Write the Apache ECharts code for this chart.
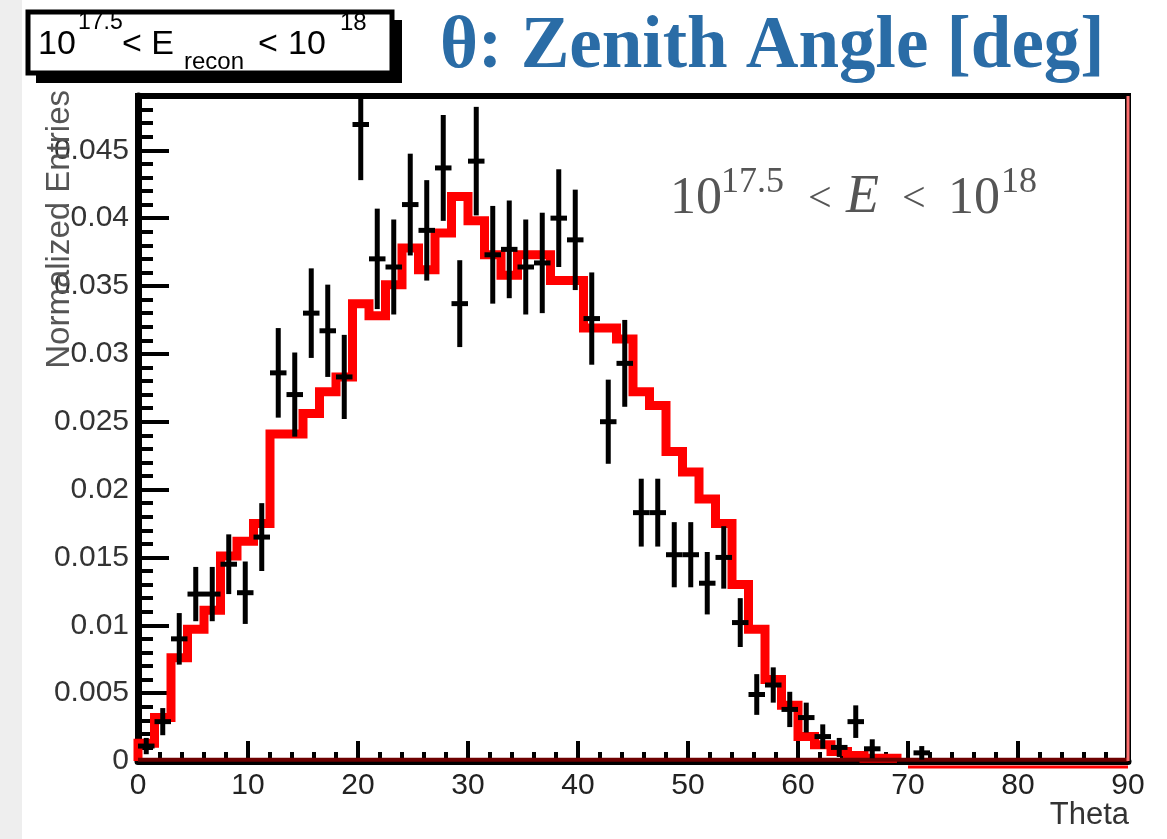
<!DOCTYPE html>
<html>
<head>
<meta charset="UTF-8">
<title>Zenith Angle</title>
<script src="https://cdn.jsdelivr.net/npm/echarts@6/dist/echarts.min.js"></script>
<style>
  body { margin: 0; background: #fff; }
  #chart { width: 1167px; height: 839px; }
</style>
</head>
<body>
<div id="chart"></div>
<script>
// histogram (red), 1.5 deg bins from 0
const binWidth = 1.5;
const histVals = [0.0013, 0.0032, 0.0076, 0.0097, 0.0111, 0.0151, 0.0162, 0.0175, 0.0241, 0.0241,
  0.0256, 0.0272, 0.0283, 0.0337, 0.0328, 0.0351, 0.0378, 0.0362, 0.0389, 0.0416,
  0.0398, 0.0373, 0.0358, 0.0373, 0.0373, 0.0354, 0.0354, 0.0319, 0.0319, 0.0311,
  0.0272, 0.0262, 0.0228, 0.0213, 0.0193, 0.0175, 0.0130, 0.0097, 0.0060, 0.0041,
  0.0018, 0.0012, 0.0007, 0.0004, 0.0002, 0.0002, 0, 0, 0, 0,
  0, 0, 0, 0, 0, 0, 0, 0, 0, 0];

// data points with error bars (black)
const ptTheta = [0.75, 2.25, 3.75, 5.25, 6.75, 8.25, 9.75, 11.25, 12.75, 14.25,
  15.75, 17.25, 18.75, 20.25, 21.75, 23.25, 24.75, 26.25, 27.75, 29.25,
  30.75, 32.25, 33.75, 35.25, 36.75, 38.25, 39.75, 41.25, 42.75, 44.25,
  45.75, 47.25, 48.75, 50.25, 51.75, 53.25, 54.75, 56.25, 57.75, 59.25,
  60.75, 62.25, 63.75, 65.25, 66.75, 71.25];
const ptVal = [0.0011, 0.0029, 0.0090, 0.0123, 0.0123, 0.0145, 0.0124, 0.0165, 0.0286, 0.0270,
  0.0330, 0.0317, 0.0283, 0.0469, 0.0370, 0.0364, 0.0410, 0.0391, 0.0437, 0.0337,
  0.0442, 0.0373, 0.0377, 0.0364, 0.0367, 0.0400, 0.0384, 0.0326, 0.0250, 0.0293,
  0.0183, 0.0183, 0.0152, 0.0152, 0.0131, 0.0150, 0.0102, 0.0049, 0.0056, 0.0038,
  0.0032, 0.0018, 0.0010, 0.0029, 0.0009, 0.0006];
const ptErr = [0.0006, 0.0010, 0.0019, 0.0020, 0.0020, 0.0022, 0.0023, 0.0025, 0.0033, 0.0031,
  0.0033, 0.0034, 0.0031, 0.0041, 0.0037, 0.0035, 0.00375, 0.0037, 0.0039, 0.0032,
  0.0040, 0.0036, 0.0036, 0.0035, 0.0037, 0.0036, 0.0037, 0.0034, 0.0031, 0.0032,
  0.0025, 0.0025, 0.0024, 0.0024, 0.0023, 0.0023, 0.0018, 0.0015, 0.0013, 0.0013,
  0.0011, 0.0009, 0.0007, 0.0012, 0.0007, 0.0005];

const xMax = 90, yMax = 0.049;

// step line data from bin edges, stop after last non-empty bin
let lastBin = 0;
histVals.forEach((v, i) => { if (v > 0) lastBin = i; });
const histData = [[0, 0]];
for (let i = 0; i <= lastBin; i++) histData.push([i * binWidth, histVals[i]]);
histData.push([(lastBin + 1) * binWidth, 0]);

const pts = ptTheta.map((t, i) => [t, ptVal[i], ptErr[i]]);

const chart = echarts.init(document.getElementById('chart'));
const font = '"Liberation Sans", Arial, sans-serif';
const serif = '"Liberation Serif", "Times New Roman", serif';

function txt(x, y, text, size, opts) {
    return {
        type: 'text', x: x, y: y, z: 10,
        style: Object.assign({ text: text, font: size + 'px ' + font, fill: '#000',
            textAlign: 'left', textVerticalAlign: 'middle' }, opts || {})
    };
}
function stxt(x, y, text, css) {
    return txt(x, y, text, 0, { font: css + ' ' + serif, fill: '#555' });
}

chart.setOption({
    backgroundColor: '#fff',
    animation: false,
    grid: { left: 138, right: 39, top: 96, bottom: 78, show: true,
        borderColor: '#000', borderWidth: 6, backgroundColor: 'transparent' },
    xAxis: {
        type: 'value', min: 0, max: xMax, interval: 10,
        axisLine: { lineStyle: { color: '#000', width: 7 } },
        axisTick: { inside: true, length: 20, lineStyle: { color: '#000', width: 4 } },
        minorTick: { show: true, splitNumber: 5, length: 9, lineStyle: { color: '#000', width: 4 } },
        splitLine: { show: false },
        axisLabel: { color: '#222', fontSize: 30, fontFamily: font, margin: 10 }
    },
    yAxis: [{
        type: 'value', min: 0, max: yMax, interval: 0.005,
        axisLine: { lineStyle: { color: '#000', width: 7 } },
        axisTick: { inside: true, length: 31, lineStyle: { color: '#000', width: 4 } },
        splitLine: { show: false },
        axisLabel: { color: '#333', fontSize: 30, fontFamily: font, margin: 9, showMaxLabel: false }
    }, {
        type: 'value', min: 0, max: yMax, interval: 0.001, position: 'left',
        axisLine: { show: false },
        axisTick: { inside: true, length: 15, lineStyle: { color: '#000', width: 4 } },
        splitLine: { show: false },
        axisLabel: { show: false }
    }],
    series: [{
        name: 'hist', type: 'line', step: 'end', data: histData, symbol: 'none', z: 2,
        lineStyle: { color: '#ff0000', width: 9, join: 'miter' }
    }, {
        name: 'zero', type: 'line', data: [[0, 0.0001], [xMax, 0.0001]], symbol: 'none', z: 3,
        lineStyle: { color: '#6e0000', width: 4 }
    }, {
        name: 'edge', type: 'line', data: [[xMax, 0], [xMax, yMax]], symbol: 'none', z: 3,
        lineStyle: { color: '#ff7070', width: 3 }
    }, {
        name: 'under', type: 'line', data: [[70, -0.00045], [xMax, -0.00045]], symbol: 'none', z: 3,
        clip: false, lineStyle: { color: '#ff0000', width: 3 }
    }, {
        name: 'data', type: 'custom', z: 5, data: pts,
        renderItem: function (params, api) {
            const x = api.value(0), y = api.value(1), e = api.value(2);
            const c = api.coord([x, y]);
            const hi = api.coord([x, Math.min(y + e, yMax)]);
            const lo = api.coord([x, Math.max(y - e, 0)]);
            const l = api.coord([x - binWidth / 2, y]);
            const r = api.coord([x + binWidth / 2, y]);
            return { type: 'group', children: [
                { type: 'line', shape: { x1: c[0], y1: hi[1], x2: c[0], y2: lo[1] },
                  style: { stroke: '#000', lineWidth: 5 } },
                { type: 'line', shape: { x1: l[0], y1: c[1], x2: r[0], y2: c[1] },
                  style: { stroke: '#000', lineWidth: 5 } }
            ] };
        }
    }],
    graphic: [
        { type: 'rect', shape: { x: 0, y: 0, width: 22, height: 839 }, style: { fill: '#eeeeee' }, z: 0 },
        // top-left label box with shadow
        { type: 'rect', shape: { x: 36, y: 20, width: 366, height: 63 }, style: { fill: '#000' }, z: 8 },
        { type: 'rect', shape: { x: 28, y: 12, width: 364, height: 61 },
          style: { fill: '#fff', stroke: '#000', lineWidth: 5 }, z: 9 },
        txt(38, 45, '10', 34),
        txt(78, 23, '17.5', 23),
        txt(122, 45, '< E', 34),
        txt(184, 62, 'recon', 24),
        txt(258, 45, '<', 34),
        txt(288, 45, '10', 34),
        txt(340, 23, '18', 24),
        // blue title
        { type: 'text', x: 440, y: 48, z: 10,
          style: { text: 'θ: Zenith Angle [deg]', font: 'bold 73px ' + serif, fill: '#2a6ca6',
            textAlign: 'left', textVerticalAlign: 'middle' } },
        // energy range annotation
        stxt(670, 199, '10', '52px'),
        stxt(721, 183, '17.5', '36px'),
        stxt(808, 200, '<', '42px'),
        stxt(846, 198, 'E', 'italic 54px'),
        stxt(902, 200, '<', '42px'),
        stxt(948, 199, '10', '52px'),
        stxt(1001, 183, '18', '36px'),
        // axis titles
        { type: 'text', x: 60, y: 90, rotation: Math.PI / 2, z: 10,
          style: { text: 'Normalized Entries', font: '33px ' + font, fill: '#555',
            textAlign: 'right', textVerticalAlign: 'middle' } },
        txt(1129, 815, 'Theta', 31, { textAlign: 'right', fill: '#333' })
    ]
});
</script>
</body>
</html>
